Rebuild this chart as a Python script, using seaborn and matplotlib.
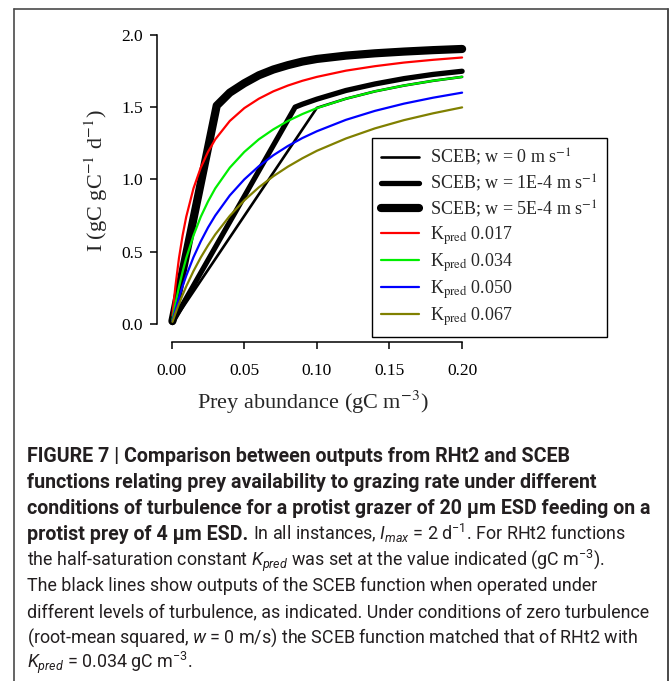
import matplotlib
matplotlib.use("Agg")
import matplotlib.pyplot as plt
import seaborn as sns
from matplotlib.lines import Line2D

# ---------------- data ----------------
prey_abundance = [0.0005, 0.001, 0.0025, 0.005, 0.0075, 0.01, 0.015, 0.02, 0.025, 0.03,
                  0.04, 0.05, 0.06, 0.07, 0.08, 0.09, 0.10, 0.12, 0.14, 0.16, 0.18, 0.20]
rht2_k0017 = [0.057, 0.111, 0.256, 0.455, 0.612, 0.741, 0.938, 1.081, 1.190, 1.277,
              1.404, 1.493, 1.558, 1.609, 1.649, 1.682, 1.709, 1.752, 1.783, 1.808, 1.827, 1.843]
rht2_k0034 = [0.029, 0.057, 0.137, 0.256, 0.361, 0.455, 0.612, 0.741, 0.847, 0.938,
              1.081, 1.190, 1.277, 1.346, 1.404, 1.452, 1.493, 1.558, 1.609, 1.649, 1.682, 1.709]
rht2_k0050 = [0.020, 0.039, 0.095, 0.182, 0.261, 0.333, 0.462, 0.571, 0.667, 0.750,
              0.889, 1.000, 1.091, 1.167, 1.231, 1.286, 1.333, 1.412, 1.474, 1.524, 1.565, 1.600]
rht2_k0067 = [0.015, 0.029, 0.072, 0.139, 0.201, 0.260, 0.366, 0.460, 0.543, 0.619,
              0.748, 0.855, 0.945, 1.022, 1.088, 1.146, 1.198, 1.283, 1.353, 1.410, 1.457, 1.498]

sceb_w0_x = [0.0005, 0.10, 0.12, 0.14, 0.16, 0.18, 0.20]
sceb_w0_y = [0.008, 1.495, 1.558, 1.609, 1.649, 1.682, 1.709]
sceb_w1e4_x = [0.0005, 0.085, 0.09, 0.10, 0.12, 0.14, 0.16, 0.18, 0.20]
sceb_w1e4_y = [0.010, 1.500, 1.520, 1.555, 1.615, 1.660, 1.697, 1.726, 1.748]
sceb_w5e4_x = [0.0005, 0.031, 0.035, 0.04, 0.05, 0.06, 0.07, 0.08, 0.09, 0.10,
               0.12, 0.14, 0.16, 0.18, 0.20]
sceb_w5e4_y = [0.020, 1.510, 1.550, 1.600, 1.665, 1.720, 1.760, 1.790, 1.815, 1.833,
               1.856, 1.872, 1.884, 1.894, 1.902]

sceb_labels = ["SCEB; w = 0 m s$^{-1}$", "SCEB; w = 1E-4 m s$^{-1}$", "SCEB; w = 5E-4 m s$^{-1}$"]
k_labels = ["K$_{\\mathrm{pred}}$ 0.017", "K$_{\\mathrm{pred}}$ 0.034",
            "K$_{\\mathrm{pred}}$ 0.050", "K$_{\\mathrm{pred}}$ 0.067"]
x_ticks = [0.00, 0.05, 0.10, 0.15, 0.20]
y_ticks = [0.0, 0.5, 1.0, 1.5, 2.0]

caption_lines = [
    [("FIGURE 7 | Comparison between outputs from RHt2 and SCEB", "bold")],
    [("functions relating prey availability to grazing rate under different", "bold")],
    [("conditions of turbulence for a protist grazer of 20 \u00b5m ESD feeding on a", "bold")],
    [("protist prey of 4 \u00b5m ESD.", "bold"),
     ("In all instances, $I_{max}$ = 2 d$^{-1}$. For RHt2 functions", "normal")],
    [("the half-saturation constant $K_{pred}$ was set at the value indicated (gC m$^{-3}$).", "normal")],
    [("The black lines show outputs of the SCEB function when operated under", "normal")],
    [("different levels of turbulence, as indicated. Under conditions of zero turbulence", "normal")],
    [("(root-mean squared, $w$ = 0 m/s) the SCEB function matched that of RHt2 with", "normal")],
    [("$K_{pred}$ = 0.034 gC m$^{-3}$.", "normal")],
]

# ---------------- style ----------------
sns.set_style("ticks")
plt.rcParams["font.family"] = ["Liberation Serif", "DejaVu Serif"]
plt.rcParams["mathtext.fontset"] = "custom"
plt.rcParams["mathtext.rm"] = "Roboto"
plt.rcParams["mathtext.it"] = "Roboto:italic"
plt.rcParams["mathtext.bf"] = "Roboto:bold"
plt.rcParams["mathtext.sf"] = "Roboto"

W, H = 670, 681
fig = plt.figure(figsize=(W / 100, H / 100), dpi=100)

# axes geometry in pixels (from top-left)
ax_left_px, ax_bottom_px, ax_right_px, ax_top_px = 156.7, 341.7, 620.0, 20.0
x0_px, xscale = 171.7, 1452.0   # pixel of x=0 and px per unit
y0_px, yscale = 324.0, 144.6    # pixel of y=0 and px per unit
ax = fig.add_axes([ax_left_px / W, 1 - ax_bottom_px / H,
                   (ax_right_px - ax_left_px) / W, (ax_bottom_px - ax_top_px) / H])
ax.set_xlim(-(x0_px - ax_left_px) / xscale, (ax_right_px - x0_px) / xscale)
ax.set_ylim(-(ax_bottom_px - y0_px) / yscale, (y0_px - ax_top_px) / yscale)

black_specs = [(sceb_w0_x, sceb_w0_y, 1.9), (sceb_w1e4_x, sceb_w1e4_y, 3.8),
               (sceb_w5e4_x, sceb_w5e4_y, 5.9)]
for (xs, ys, lw), lab in zip(black_specs, sceb_labels):
    sns.lineplot(x=xs, y=ys, ax=ax, color="black", linewidth=lw, label=lab,
                 sort=False, estimator=None, solid_capstyle="round",
                 solid_joinstyle="round", clip_on=False)

colors = ["#ff0000", "#00ee00", "#0000ff", "#808000"]
for ys, c, lab in zip([rht2_k0017, rht2_k0034, rht2_k0050, rht2_k0067], colors, k_labels):
    sns.lineplot(x=prey_abundance, y=ys, ax=ax, color=c, linewidth=1.6, label=lab,
                 sort=False, estimator=None, clip_on=False)

ax.spines["top"].set_visible(False)
ax.spines["right"].set_visible(False)
for s in ("left", "bottom"):
    ax.spines[s].set_linewidth(1.1)
    ax.spines[s].set_color("black")
ax.spines["bottom"].set_bounds(x_ticks[0], x_ticks[-1])
ax.spines["left"].set_bounds(y_ticks[0], y_ticks[-1])
ax.set_xticks(x_ticks)
ax.set_yticks(y_ticks)
ax.set_xticklabels([f"{v:.2f}" for v in x_ticks])
ax.set_yticklabels([f"{v:.1f}" for v in y_ticks])
ax.tick_params(axis="both", direction="out", length=5, width=1.1, color="black",
               labelsize=12.5, labelcolor="black")
ax.tick_params(axis="x", pad=10)
ax.tick_params(axis="y", pad=5)
ax.set_xlabel("")
ax.set_ylabel("")
ax.patch.set_alpha(0)

fig.text(313 / W, 1 - 402 / H, "Prey abundance (gC m$^{-3}$)", fontsize=16,
         ha="center", va="center", math_fontfamily="stix")
fig.text(96 / W, 1 - 181 / H, "I (gC gC$^{-1}$ d$^{-1}$)", fontsize=16, rotation=90,
         ha="center", va="center", math_fontfamily="stix")

handles, labels = ax.get_legend_handles_labels()
leg = ax.legend(handles, labels, loc="lower right",
                bbox_to_anchor=(607 / W, 1 - 337 / H), bbox_transform=fig.transFigure,
                borderaxespad=0, fontsize=13, frameon=True, fancybox=False,
                edgecolor="black", framealpha=1, handlelength=2.15, handletextpad=0.6,
                borderpad=0.5, labelspacing=0.25)
leg.get_frame().set_linewidth(1.0)
for t in leg.get_texts():
    t.set_math_fontfamily("stix")
for h in leg.get_lines():
    h.set_solid_capstyle("round")

# ---------------- caption ----------------
renderer = fig.canvas.get_renderer()


def width_of(txt, weight, size):
    t = fig.text(0, 0, txt, fontsize=size, fontweight=weight, family="Roboto")
    w = t.get_window_extent(renderer).width
    t.remove()
    return w


target = 652 - 27
base = 12.5
fs_bold = base * target / width_of(caption_lines[2][0][0], "bold", base)
fs_reg = base * target / width_of(caption_lines[6][0][0], "normal", base)
space_w = width_of("a a", "normal", fs_reg) - width_of("aa", "normal", fs_reg)

x_start = 27 / W
baseline0, line_step = 462.5, 25.75
for i, pieces in enumerate(caption_lines):
    y = 1 - (baseline0 + i * line_step) / H
    x = x_start
    for j, (txt, weight) in enumerate(pieces):
        size = fs_bold if weight == "bold" else fs_reg
        t = fig.text(x, y, txt, fontsize=size, fontweight=weight, family="Roboto",
                     va="baseline", ha="left", color="#231f20")
        w = t.get_window_extent(renderer).width
        x += (w + space_w) / W

# ---------------- outer frame ----------------
fc = "#4a4a4a"
fig.add_artist(Line2D([14 / W, 14 / W], [0, 1 - 9 / H], transform=fig.transFigure,
                      color=fc, lw=1.2))
fig.add_artist(Line2D([14 / W, 667.5 / W], [1 - 9 / H, 1 - 9 / H], transform=fig.transFigure,
                      color=fc, lw=1.2))
fig.add_artist(Line2D([667.5 / W, 667.5 / W], [0, 1 - 9 / H], transform=fig.transFigure,
                      color=fc, lw=1.4))

fig.savefig("out.png", dpi=100)
